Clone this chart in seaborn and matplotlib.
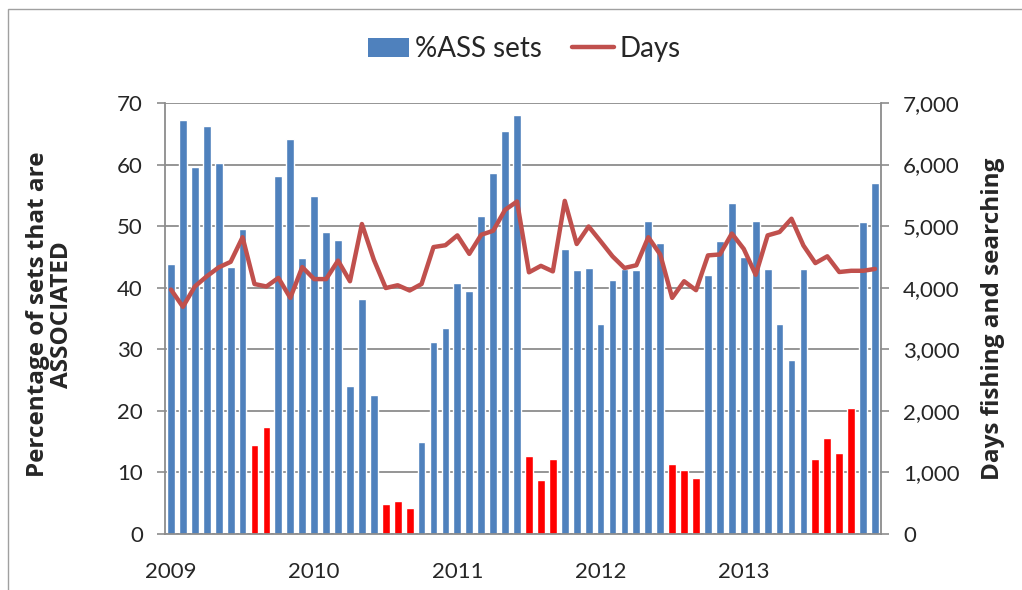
import matplotlib
matplotlib.use('Agg')

import numpy as np
import pandas as pd
import matplotlib.pyplot as plt
import seaborn as sns
from matplotlib.patches import Patch, Rectangle
from matplotlib.lines import Line2D

# -------------------------------
# DATA (monthly, Jan 2009 - Dec 2013)
# -------------------------------

years = ["2009", "2010", "2011", "2012", "2013"]

pct_ass = [
    43.9, 67.3, 59.6, 66.2, 60.3, 43.4, 49.6, 14.5, 17.4, 58.2, 64.2, 44.9,
    54.9, 49.1, 47.8, 24.0, 38.2, 22.5, 4.9, 5.3, 4.3, 15.0, 31.2, 33.4,
    40.7, 39.4, 51.7, 58.7, 65.4, 68.0, 12.6, 8.7, 12.1, 46.3, 42.9, 43.2,
    34.1, 41.3, 43.1, 42.8, 50.8, 47.2, 11.3, 10.4, 9.1, 42.0, 47.6, 53.7,
    45.0, 50.9, 43.0, 34.1, 28.2, 43.1, 12.2, 15.6, 13.2, 20.5, 50.7, 57.0,
]

days = [
    3970, 3690, 4020, 4185, 4330, 4420, 4820, 4060, 4020, 4160, 3835, 4335,
    4140, 4140, 4440, 4105, 5035, 4455, 3995, 4040, 3955, 4060, 4660, 4690,
    4850, 4550, 4860, 4925, 5265, 5400, 4250, 4355, 4265, 5410, 4710, 4995,
    4755, 4510, 4320, 4365, 4820, 4540, 3835, 4105, 3960, 4525, 4540, 4880,
    4630, 4210, 4850, 4905, 5120, 4685, 4400, 4510, 4255, 4275, 4275, 4305,
]

# closure months shown in red
closure = [7, 8, 18, 19, 20, 30, 31, 32, 42, 43, 44, 54, 55, 56, 57]

df = pd.DataFrame({
    "month": np.arange(len(pct_ass)),
    "pct": pct_ass,
    "days": days,
})
df["closed"] = df["month"].isin(closure)

blue = "#4F81BD"
red_bar = "#FF0000"
red_line = "#C0504D"
grid_col = "#8C8C8C"

# -------------------------------
# PLOT
# -------------------------------

sns.set_style("white")
plt.rcParams['font.family'] = ['Lato', 'DejaVu Sans']

fig = plt.figure(figsize=(10.22, 5.9), dpi=100)
ax = fig.add_axes([165 / 1022, 1 - 534 / 590, (881 - 165) / 1022, (534 - 103) / 590])

bar_colors = [red_bar if c else blue for c in df["closed"]]

sns.barplot(
    data=df,
    x="month",
    y="pct",
    hue="month",
    palette=bar_colors,
    legend=False,
    width=0.65,
    saturation=1,
    ax=ax,
    zorder=2
)

ax.set_ylim(0, 70)
ax.set_xlim(-0.5, len(pct_ass) - 0.5)
ax.set_yticks(np.arange(0, 71, 10))
ax.yaxis.grid(True, color=grid_col, linewidth=1.3, zorder=0)
ax.set_axisbelow(True)

# year labels + month boundary ticks
ax.set_xticks([0, 12, 24, 36, 48])
ax.set_xticklabels(years)
ax.set_xticks(np.arange(-0.5, len(pct_ass), 1), minor=True)
ax.tick_params(axis="x", which="major", length=0, pad=20, labelsize=16)
ax.tick_params(axis="x", which="minor", length=6, width=1.2, color=grid_col, direction="out")
ax.tick_params(axis="y", length=6, width=1.2, color=grid_col, pad=10, labelsize=16, left=True)

ax.set_xlabel("")
ax.set_ylabel("Percentage of sets that are\nASSOCIATED", fontsize=17.5, fontweight="bold",
              family=["Open Sans", "DejaVu Sans"], linespacing=1.0)
ax.yaxis.set_label_coords(-0.127, 0.51)

for side in ["left", "bottom", "right"]:
    ax.spines[side].set_color(grid_col)
    ax.spines[side].set_linewidth(1.3)
ax.spines["top"].set_visible(False)

# -------------------------------
# DAYS LINE (secondary axis)
# -------------------------------

ax2 = ax.twinx()

sns.lineplot(
    data=df,
    x="month",
    y="days",
    color=red_line,
    linewidth=3.2,
    ax=ax2,
    zorder=3
)

ax2.set_ylim(0, 7000)
ax2.set_yticks(np.arange(0, 7001, 1000))
ax2.set_yticklabels([f"{v:,}" for v in range(0, 7001, 1000)])
ax2.tick_params(axis="y", length=6, width=1.2, color=grid_col, pad=10, labelsize=16, right=True)
ax2.set_ylabel("Days fishing and searching", fontsize=17.5, fontweight="bold",
               family=["Open Sans", "DejaVu Sans"])
ax2.yaxis.set_label_coords(1.14, 0.5)
ax2.set_xlim(-0.5, len(pct_ass) - 0.5)
for side in ["left", "bottom", "right", "top"]:
    ax2.spines[side].set_visible(False)

# -------------------------------
# LEGEND
# -------------------------------

handles = [
    Patch(facecolor=blue, edgecolor="none"),
    Line2D([0], [0], color=red_line, linewidth=3.2),
]

fig.legend(
    handles,
    ["%ASS sets", "Days"],
    loc="center",
    bbox_to_anchor=(524 / 1022, 1 - 49 / 590),
    ncol=2,
    frameon=False,
    fontsize=20,
    handlelength=1.5,
    handleheight=0.7,
    handletextpad=0.2,
    columnspacing=1.1
)

# chart border
fig.patches.append(Rectangle(
    (8 / 1022, -0.05), 1.1, 1.05 - 9 / 590,
    transform=fig.transFigure, fill=False, edgecolor="#A0A0A0", linewidth=1
))

fig.savefig("out.png", dpi=100)
